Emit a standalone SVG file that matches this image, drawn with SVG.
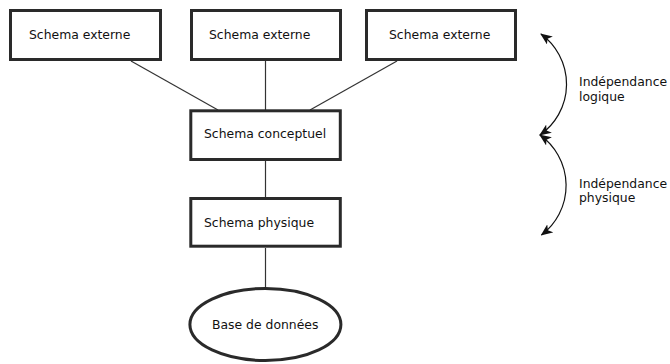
<svg xmlns="http://www.w3.org/2000/svg" width="670" height="364" viewBox="0 0 670 364">
<style>
.box{fill:#fff;stroke:#2a2a2a;stroke-width:3}
.ln{stroke:#333;stroke-width:1.2;fill:none}
.t{font-family:"DejaVu Sans",Verdana,sans-serif;font-size:12.4px;fill:#111}
.arc{stroke:#111;stroke-width:1.2;fill:none;marker-start:url(#ah);marker-end:url(#ah)}
</style>
<defs>
<marker id="ah" viewBox="0 0 12 10" refX="11" refY="5" markerWidth="12" markerHeight="10" markerUnits="userSpaceOnUse" orient="auto-start-reverse">
<path d="M0,0 L12,5 L0,10 L3,5 Z" fill="#111"/>
</marker>
</defs>
<rect width="670" height="364" fill="#fff"/>
<g id="connectors">
<line class="ln" x1="131" y1="61" x2="218" y2="110"/>
<line class="ln" x1="265.5" y1="61" x2="265.5" y2="110"/>
<line class="ln" x1="397" y1="61" x2="310" y2="110"/>
<line class="ln" x1="265.5" y1="161" x2="265.5" y2="198"/>
<line class="ln" x1="265.5" y1="248" x2="265.5" y2="288"/>
<path class="arc" d="M541,34 A62,62 0 0 1 540,135"/>
<path class="arc" d="M540,135 A62,62 0 0 1 541.5,235"/>
</g>
<g id="ext1"><rect class="box" x="10.5" y="10.5" width="150" height="49"/><text class="t" x="29" y="39">Schema externe</text></g>
<g id="ext2"><rect class="box" x="191.5" y="10.5" width="149" height="49"/><text class="t" x="209" y="39">Schema externe</text></g>
<g id="ext3"><rect class="box" x="366.5" y="10.5" width="149" height="49"/><text class="t" x="389" y="39">Schema externe</text></g>
<g id="conceptuel"><rect class="box" x="190.8" y="110.8" width="149.5" height="48.7"/><text class="t" x="204" y="138">Schema conceptuel</text></g>
<g id="physique"><rect class="box" x="190.8" y="198.5" width="149.5" height="47.7"/><text class="t" x="204" y="226.5">Schema physique</text></g>
<g id="base"><ellipse class="box" cx="265.4" cy="324.5" rx="75.5" ry="36"/><text class="t" x="212" y="329">Base de données</text></g>
<g id="label-logique"><text class="t" x="579" y="86">Indépendance</text><text class="t" x="579" y="100.5">logique</text></g>
<g id="label-physique"><text class="t" x="579" y="187.5">Indépendance</text><text class="t" x="579" y="202">physique</text></g>
</svg>
